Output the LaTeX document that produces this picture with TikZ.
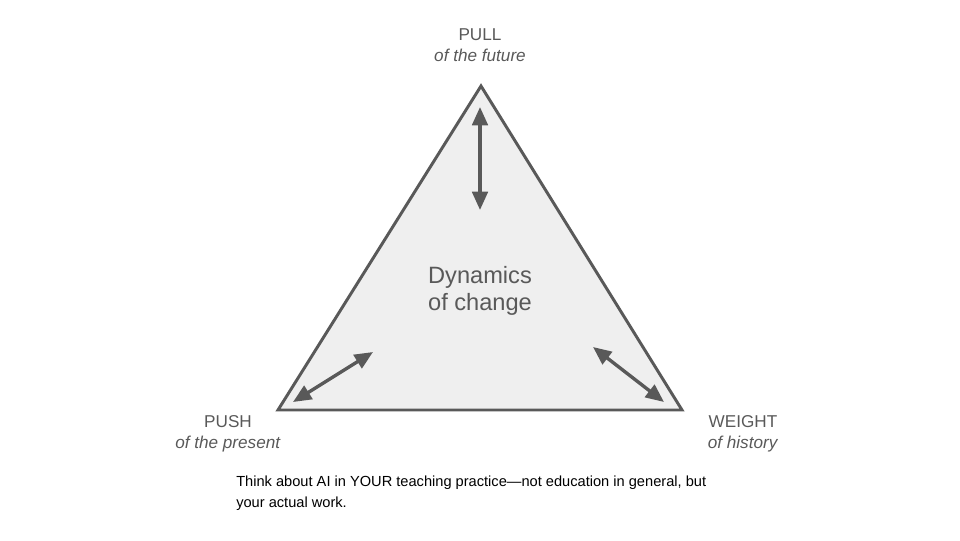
\documentclass[tikz,border=0pt]{standalone}
\usepackage{fontspec}
\setmainfont{Liberation Sans}
\usepackage{tikz}
\usetikzlibrary{arrows.meta,positioning}
\usepackage{xcolor}
\definecolor{edge}{RGB}{89,89,89}
\definecolor{inside}{RGB}{239,239,239}

\begin{document}
\begin{tikzpicture}[x=0.025cm, y=-0.025cm,
  arr/.style={{Triangle[length=13pt,width=11pt]}-{Triangle[length=13pt,width=11pt]}, line width=2.4pt, edge},
  lbl/.style={align=center, text=edge, inner sep=0pt, font=\fontsize{12.2}{14.9}\selectfont}]
\useasboundingbox (0,0) rectangle (960,540);
%% ---- triangle ----
\coordinate (top) at (481,86);
\coordinate (left) at (278,410);
\coordinate (right) at (682,410);
\draw[line width=2.1pt, edge, fill=inside, line join=miter] (top) -- (right) -- (left) -- cycle;
\node[lbl, font=\fontsize{16.8}{19.5}\selectfont] (centre) at (480,291) {Dynamics\\of change};
%% ---- the three forces ----
\node[lbl] (pull) at (480,45) {PULL\\\textit{of the future}};
\node[lbl] (push) at (228,434) {PUSH\\\textit{of the present}};
\node[lbl] (weight) at (743,434) {WEIGHT\\\textit{of history}};
\coordinate (pullA) at (480,107);
\coordinate (pullB) at (480,210);
\coordinate (pushA) at (293,402);
\coordinate (pushB) at (373,352);
\coordinate (weightA) at (593,347);
\coordinate (weightB) at (664,402);
\draw[arr] (pullA) -- (pullB);
\draw[arr] (pushA) -- (pushB);
\draw[arr] (weightA) -- (weightB);
%% ---- question ----
\node[anchor=north west, align=left, inner sep=0pt, font=\fontsize{10.4}{14.9}\selectfont] (note) at (236,476)
  {Think about AI in YOUR teaching practice---not education in general, but\\your actual work.};
\end{tikzpicture}
\end{document}
